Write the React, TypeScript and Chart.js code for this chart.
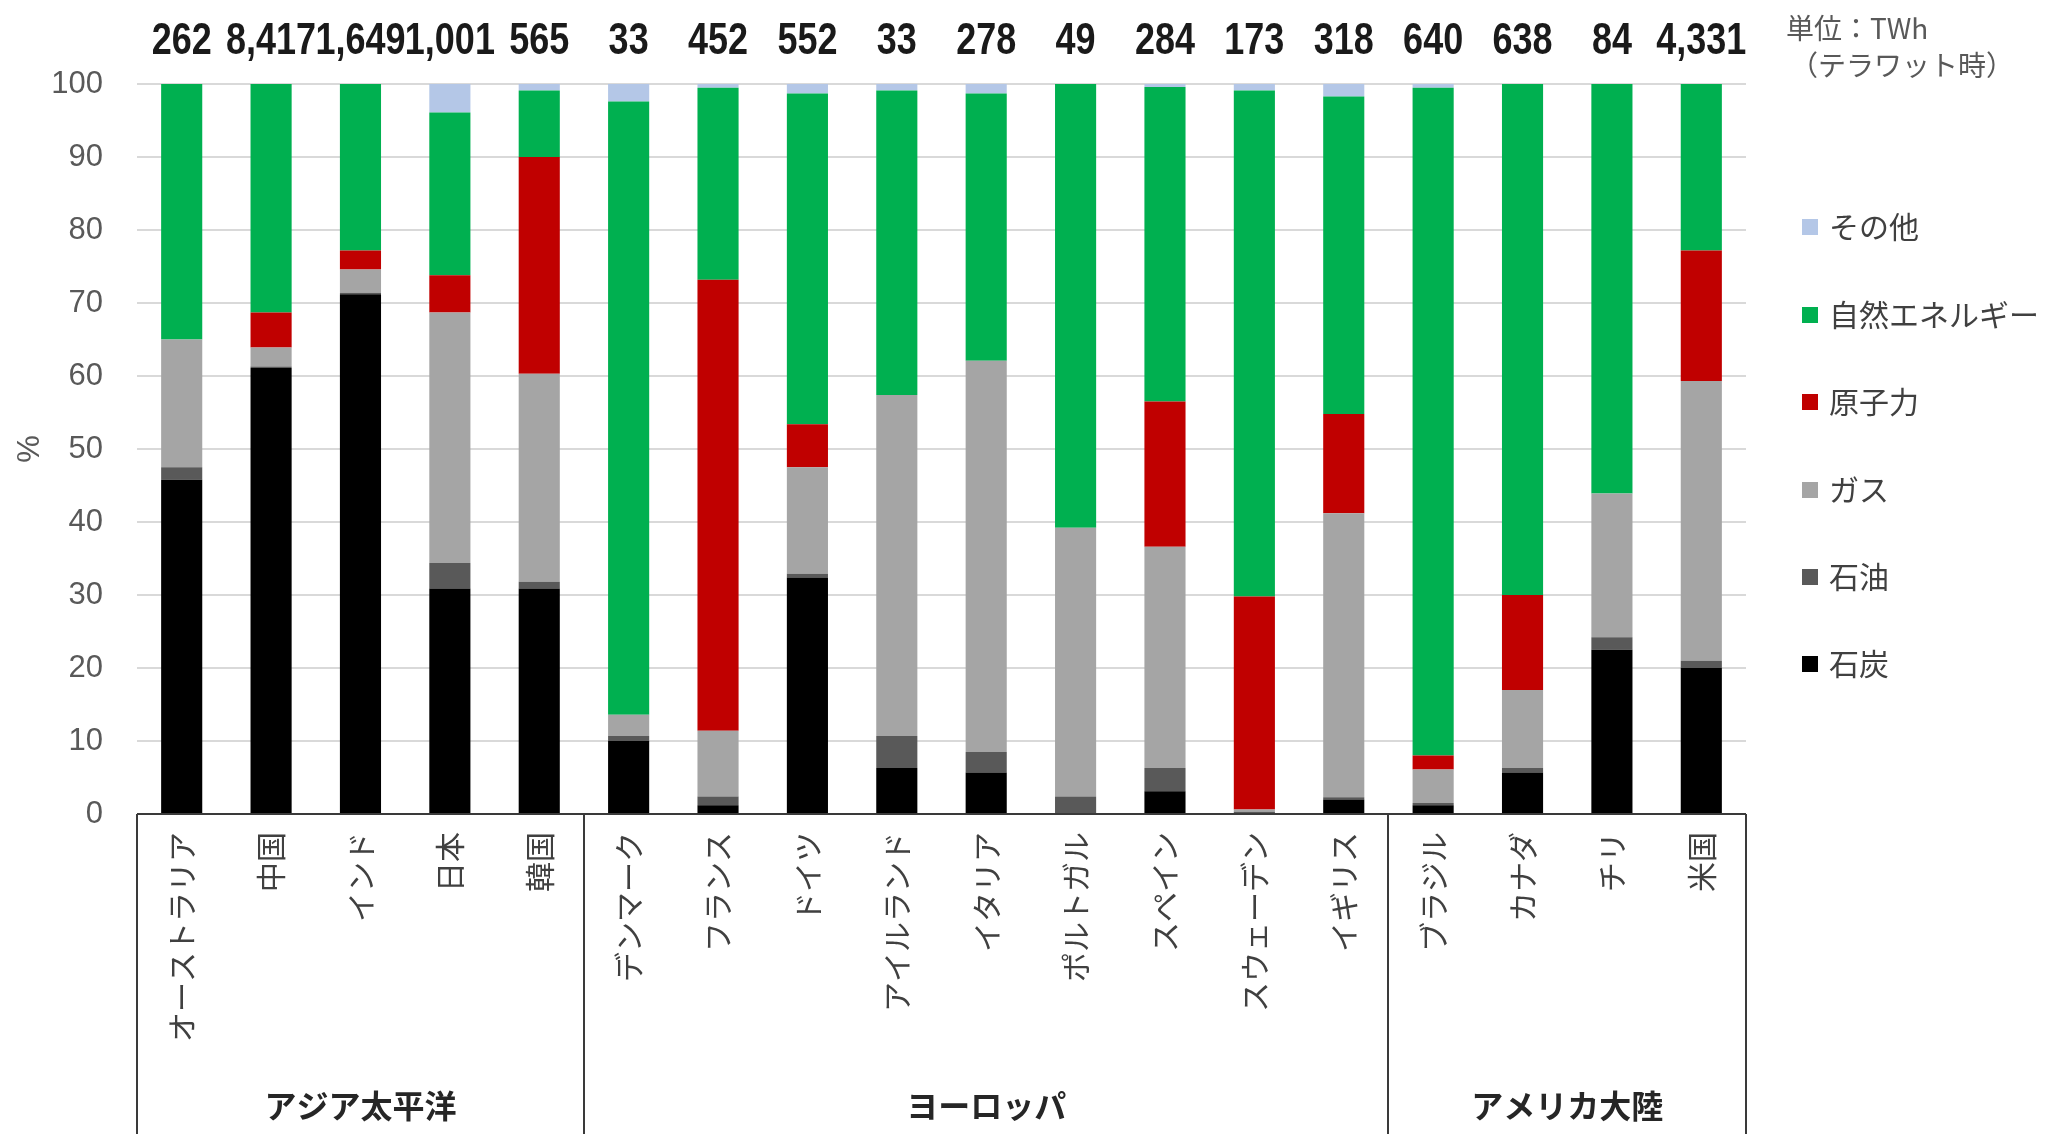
import React, { useEffect, useRef } from "react";
import { Chart, registerables } from "chart.js";

Chart.register(...registerables);

// Countries along the x axis
const categories = [
  "オーストラリア", "中国", "インド", "日本", "韓国",
  "デンマーク", "フランス", "ドイツ", "アイルランド", "イタリア",
  "ポルトガル", "スペイン", "スウェーデン", "イギリス",
  "ブラジル", "カナダ", "チリ", "米国",
];

// Total generation (TWh) printed above each bar
const totals = [
  "262", "8,417", "1,649", "1,001", "565",
  "33", "452", "552", "33", "278", "49", "284", "173", "318",
  "640", "638", "84", "4,331",
];

// Region groups under the axis and how many countries each spans
const regions = ["アジア太平洋", "ヨーロッパ", "アメリカ大陸"];
const regionSizes = [5, 9, 4];

// Share of generation by source (%)
const coal = [45.8, 61.1, 71.2, 30.9, 30.9, 10.0, 1.2, 32.4, 6.3, 5.7, 0, 3.1, 0, 2.0, 1.2, 5.7, 22.5, 20.0];
const oil = [1.7, 0.2, 0.2, 3.5, 0.9, 0.7, 1.2, 0.5, 4.4, 2.8, 2.4, 3.2, 0.3, 0.3, 0.3, 0.6, 1.7, 1.0];
const gas = [17.5, 2.6, 3.2, 34.3, 28.5, 2.9, 9.0, 14.6, 46.7, 53.6, 36.8, 30.3, 0.3, 38.9, 4.6, 10.7, 19.7, 38.3];
const nuclear = [0, 4.8, 2.6, 5.1, 29.7, 0, 61.8, 5.9, 0, 0, 0, 19.9, 29.2, 13.6, 1.9, 13.0, 0, 17.9];
const renewables = [35.0, 31.3, 22.8, 22.3, 9.1, 84.0, 26.3, 45.3, 41.7, 36.6, 60.8, 43.1, 69.3, 43.5, 91.5, 70.0, 56.1, 22.8];
const other = [0, 0, 0, 3.9, 0.9, 2.4, 0.5, 1.3, 0.9, 1.3, 0, 0.4, 0.9, 1.7, 0.5, 0, 0, 0];

const seriesNames = ["石炭", "石油", "ガス", "原子力", "自然エネルギー", "その他"];
const seriesColors = ["#000000", "#595959", "#a5a5a5", "#c00000", "#00b050", "#b4c7e7"];
const seriesValues = [coal, oil, gas, nuclear, renewables, other];

const W = 2051;
const H = 1134;
const JP = '"Noto Sans CJK JP", "Noto Sans", sans-serif';

const decorations = {
  id: "decorations",
  afterDraw(chart: any) {
    const ctx = chart.ctx as CanvasRenderingContext2D;
    const x = chart.scales.x;
    const area = chart.chartArea;

    // totals above the bars, in a narrow bold face
    ctx.save();
    ctx.fillStyle = "#1a1a1a";
    ctx.font = 'bold 45px "Liberation Sans", Arial, sans-serif';
    ctx.textAlign = "center";
    ctx.textBaseline = "middle";
    totals.forEach((t, i) => {
      const cx = x.getPixelForValue(i);
      ctx.save();
      ctx.translate(cx, 42);
      ctx.scale(0.8, 1);
      ctx.fillText(t, 0, 0);
      ctx.restore();
    });
    ctx.restore();

    // unit note
    ctx.save();
    ctx.fillStyle = "#595959";
    ctx.font = `28px ${JP}`;
    ctx.textAlign = "left";
    ctx.textBaseline = "middle";
    ctx.fillText("単位：TWh", 1786, 28);
    ctx.fillText("（テラワット時）", 1790, 65);
    ctx.restore();

    // legend, top item is the last series
    ctx.save();
    ctx.font = `30px ${JP}`;
    ctx.textAlign = "left";
    ctx.textBaseline = "middle";
    const legendY = [227, 315, 402, 490, 577, 664];
    for (let k = 0; k < seriesNames.length; k++) {
      const s = seriesNames.length - 1 - k;
      const y = legendY[k];
      ctx.fillStyle = seriesColors[s];
      ctx.fillRect(1802, y - 8, 16, 16);
      ctx.fillStyle = "#404040";
      ctx.fillText(seriesNames[s], 1829, y);
    }
    ctx.restore();

    // region box under the axis
    ctx.save();
    ctx.strokeStyle = "#3a3a3a";
    ctx.lineWidth = 2;
    const left = area.left;
    const right = area.right;
    const bottom = area.bottom;
    ctx.beginPath();
    ctx.moveTo(left, bottom);
    ctx.lineTo(right, bottom);
    ctx.stroke();
    const step = (right - left) / categories.length;
    let start = 0;
    const bounds: number[] = [0];
    regionSizes.forEach((n) => {
      start += n;
      bounds.push(start);
    });
    bounds.forEach((b) => {
      const px = Math.round(left + b * step);
      ctx.beginPath();
      ctx.moveTo(px, bottom);
      ctx.lineTo(px, H);
      ctx.stroke();
    });
    ctx.fillStyle = "#262626";
    ctx.font = `bold 32px ${JP}`;
    ctx.textAlign = "center";
    ctx.textBaseline = "middle";
    regions.forEach((r, i) => {
      const cx = left + ((bounds[i] + bounds[i + 1]) / 2) * step;
      ctx.fillText(r, cx, 1106);
    });
    ctx.restore();
  },
};

export default function App() {
  const ref = useRef<HTMLCanvasElement | null>(null);

  useEffect(() => {
    document.body.style.margin = "0";
    const canvas = ref.current;
    if (!canvas) return;
    const chart = new Chart(canvas, {
      type: "bar",
      data: {
        labels: categories,
        datasets: seriesValues.map((vals, i) => ({
          label: seriesNames[i],
          data: vals,
          backgroundColor: seriesColors[i],
          borderWidth: 0,
          barPercentage: 0.46,
          categoryPercentage: 1,
        })),
      },
      options: {
        responsive: false,
        animation: false,
        devicePixelRatio: 1,
        layout: { padding: { top: 84, right: 305, left: 0, bottom: 0 } },
        plugins: {
          legend: { display: false },
          tooltip: { enabled: false },
        },
        scales: {
          x: {
            stacked: true,
            grid: { display: false },
            border: { display: false },
            afterFit: (s: any) => {
              s.height = 320;
            },
            ticks: {
              autoSkip: false,
              minRotation: 90,
              maxRotation: 90,
              padding: 10,
              color: "#404040",
              font: { family: JP, size: 30 },
            },
          },
          y: {
            stacked: true,
            min: 0,
            max: 100,
            afterFit: (s: any) => {
              s.width = 137;
            },
            grid: { color: "#d9d9d9", lineWidth: 2, drawTicks: false },
            border: { display: false },
            ticks: {
              stepSize: 10,
              padding: 34,
              color: "#595959",
              font: { family: '"Liberation Sans", Arial, sans-serif', size: 31 },
            },
            title: {
              display: true,
              text: "%",
              color: "#595959",
              font: { family: '"Liberation Sans", Arial, sans-serif', size: 31 },
              padding: { top: 12, bottom: 0 },
            },
          },
        },
      },
      plugins: [decorations],
    });
    return () => chart.destroy();
  }, []);

  return (
    <div style={{ width: W, height: H, background: "#ffffff" }}>
      <canvas ref={ref} width={W} height={H} style={{ display: "block" }} />
    </div>
  );
}
